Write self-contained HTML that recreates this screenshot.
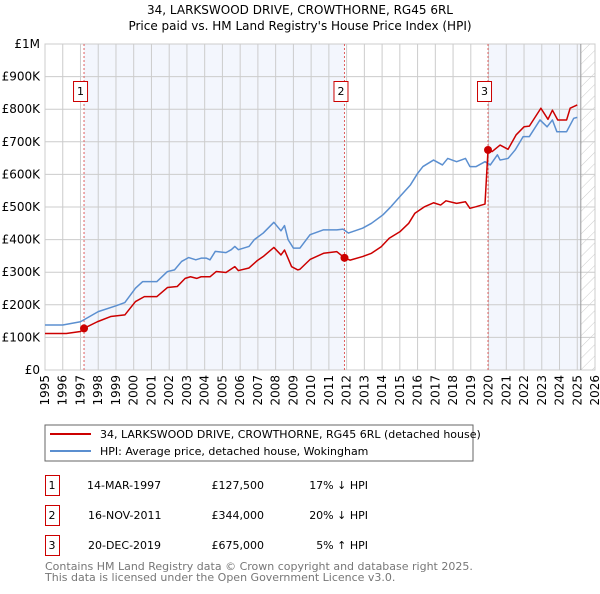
<!DOCTYPE html>
<html><head><meta charset="utf-8"><style>
body{margin:0;background:#fff;font-family:"DejaVu Sans","Liberation Sans",sans-serif;}
svg text{font-family:"DejaVu Sans","Liberation Sans",sans-serif;}
</style></head><body>
<svg id="c" width="600" height="590" xmlns="http://www.w3.org/2000/svg">
<defs><pattern id="hatch" width="8" height="8" patternUnits="userSpaceOnUse" patternTransform="rotate(45)"><line x1="0" y1="0" x2="0" y2="8" stroke="#ccc" stroke-width="1"/></pattern></defs>
<text x="300" y="14" text-anchor="middle" font-size="12">34, LARKSWOOD DRIVE, CROWTHORNE, RG45 6RL</text>
<text x="300" y="30" text-anchor="middle" font-size="12">Price paid vs. HM Land Registry's House Price Index (HPI)</text>
<g id="plot"></g>
<rect x="45" y="425" width="428" height="36" fill="#fff" stroke="#666"/>
<line x1="50" y1="434" x2="91" y2="434" stroke="#cc0000" stroke-width="2"/>
<text x="100" y="438" font-size="11">34, LARKSWOOD DRIVE, CROWTHORNE, RG45 6RL (detached house)</text>
<line x1="50" y1="451" x2="91" y2="451" stroke="#5b8fd0" stroke-width="2"/>
<text x="100" y="455" font-size="11">HPI: Average price, detached house, Wokingham</text>
<g font-size="11">
<rect x="45.5" y="475.5" width="14" height="20" fill="#fff" stroke="#cc0000"/><text x="52" y="489" text-anchor="middle">1</text>
<text x="87" y="489">14-MAR-1997</text><text x="264" y="489" text-anchor="end">£127,500</text><text x="368" y="489" text-anchor="end">17% ↓ HPI</text>
<rect x="45.5" y="505.5" width="14" height="20" fill="#fff" stroke="#cc0000"/><text x="52" y="519" text-anchor="middle">2</text>
<text x="88" y="519">16-NOV-2011</text><text x="264" y="519" text-anchor="end">£344,000</text><text x="368" y="519" text-anchor="end">20% ↓ HPI</text>
<rect x="45.5" y="535.5" width="14" height="20" fill="#fff" stroke="#cc0000"/><text x="52" y="549" text-anchor="middle">3</text>
<text x="88" y="549">20-DEC-2019</text><text x="264" y="549" text-anchor="end">£675,000</text><text x="368" y="549" text-anchor="end">5% ↑ HPI</text>
</g>
<text x="45" y="570" font-size="11" fill="#777">Contains HM Land Registry data © Crown copyright and database right 2025.</text>
<text x="45" y="581" font-size="11" fill="#777">This data is licensed under the Open Government Licence v3.0.</text>
</svg>
<script>
const yTicks=[0,100,200,300,400,500,600,700,800,900,1000];
const yTickLabels=["£0","£100K","£200K","£300K","£400K","£500K","£600K","£700K","£800K","£900K","£1M"];
const xYears=[1995,1996,1997,1998,1999,2000,2001,2002,2003,2004,2005,2006,2007,2008,2009,2010,2011,2012,2013,2014,2015,2016,2017,2018,2019,2020,2021,2022,2023,2024,2025,2026];
const hpiDates=[1995.0,1996.0,1997.0,1998.0,1999.0,1999.5,2000.1,2000.5,2001.3,2001.9,2002.3,2002.7,2003.1,2003.5,2003.8,2004.1,2004.3,2004.6,2005.2,2005.5,2005.7,2005.9,2006.5,2006.8,2007.3,2007.9,2008.3,2008.5,2008.7,2009.0,2009.37,2009.94,2010.7,2011.45,2011.8,2012.1,2012.9,2013.4,2014.05,2014.5,2015.0,2015.6,2016.0,2016.3,2016.9,2017.4,2017.7,2018.2,2018.7,2018.95,2019.3,2019.8,2020.1,2020.5,2020.65,2021.1,2021.5,2021.95,2022.3,2022.9,2023.3,2023.6,2023.85,2024.4,2024.8,2025.0];
const hpiValues=[138,138,148,179,197,207,251,271,271,302,307,333,345,338,343,343,338,364,360,369,379,369,379,400,420,453,427,443,400,374,374,415,430,430,432,420,435,450,476,501,532,568,603,624,644,629,649,639,649,624,624,639,629,660,644,649,675,716,716,767,746,767,731,731,772,775];
const priceDates=[1995.0,1996.2,1997.0,1997.2,1997.95,1998.7,1999.5,2000.1,2000.6,2001.3,2001.9,2002.45,2002.9,2003.2,2003.55,2003.8,2004.3,2004.65,2005.2,2005.7,2005.9,2006.5,2006.95,2007.3,2007.9,2008.3,2008.5,2008.9,2009.25,2009.37,2009.94,2010.7,2011.45,2011.88,2012.2,2012.9,2013.4,2013.95,2014.4,2015.0,2015.5,2015.85,2016.4,2016.9,2017.3,2017.6,2018.2,2018.7,2018.95,2019.3,2019.8,2019.97,2020.2,2020.65,2021.1,2021.55,2022.0,2022.3,2022.95,2023.35,2023.6,2023.9,2024.4,2024.6,2025.0];
const priceValues=[112,112,118,128,148,164,169,210,225,225,253,256,281,286,281,286,286,302,299,317,305,313,335,348,376,353,368,317,307,309,339,358,363,344,337,348,358,378,404,424,450,481,501,513,506,519,511,516,496,501,509,675,670,690,677,721,746,748,803,769,797,767,767,803,813];
const saleDates=[1997.2,2011.88,2019.97];
const saleValues=[127.5,344,675];
const saleLabels=["1","2","3"];

const X0=45,X1=595,Y0=370,Y1=44,Ymin=1995,Ymax=2026;
const sx=y=>X0+(y-Ymin)/(Ymax-Ymin)*(X1-X0);
const sy=v=>Y0-v/1000*(Y0-Y1);
const NS="http://www.w3.org/2000/svg";
const g=document.getElementById('plot');
function mk(t,a){const e=document.createElementNS(NS,t);for(const k in a)e.setAttribute(k,a[k]);g.appendChild(e);return e;}
let r=mk('rect',{x:sx(saleDates[0]),y:Y1,width:sx(saleDates[1])-sx(saleDates[0]),height:Y0-Y1,fill:'#f3f6fd'});


r=mk('rect',{x:sx(saleDates[2]),y:Y1,width:sx(2025.2)-sx(saleDates[2]),height:Y0-Y1,fill:'#f3f6fd'});


r=mk('rect',{x:sx(2025.2),y:Y1,width:X1-sx(2025.2),height:Y0-Y1,fill:'url(#hatch)'});


yTicks.forEach((v,i)=>{
  const l=mk('line',{x1:X0,x2:X1,y1:sy(v),y2:sy(v),stroke:'#cccccc'});
  
  
  const t=mk('text',{x:X0-5,y:sy(v)+4,'text-anchor':'end','font-size':'12'});
  t.textContent=yTickLabels[i];
  
  
});
xYears.forEach(y=>{
  const l=mk('line',{x1:sx(y),x2:sx(y),y1:Y1,y2:Y0,stroke:'#cccccc'});
  
  
  const t=mk('text',{x:sx(y),y:Y0+5,dy:'4','text-anchor':'end','font-size':'12',transform:`rotate(-90 ${sx(y)} ${Y0+5})`});
  t.textContent=y;
  
  
});
const b=mk('rect',{x:X0,y:Y1,width:X1-X0,height:Y0-Y1,fill:'none',stroke:'#cccccc'});


const ed=mk('line',{x1:sx(2025.2),x2:sx(2025.2),y1:Y1,y2:Y0,stroke:'#999'});


saleDates.forEach((d,i)=>{
  const l=mk('line',{x1:sx(d),x2:sx(d),y1:Y1,y2:Y0,stroke:'#e06060','stroke-dasharray':'2,2'});
  
  
  const bx=mk('rect',{x:sx(d)-10.5,y:81.5,width:14,height:20,fill:'#fff',stroke:'#cc0000'});
  
  
  const t=mk('text',{x:sx(d)-3.5,y:95,'text-anchor':'middle','font-size':'11'});
  t.textContent=saleLabels[i];
  
  
});
function line(ds,vs,col,name){
  const p=mk('polyline',{points:ds.map((d,i)=>sx(d)+','+sy(vs[i])).join(' '),fill:'none',stroke:col,'stroke-width':'1.5','stroke-linejoin':'round'});
  
  
}
line(hpiDates,hpiValues,'#5b8fd0','hpi-line');
line(priceDates,priceValues,'#cc0000','price-line');
saleDates.forEach((d,i)=>{
  const c=mk('circle',{cx:sx(d),cy:sy(saleValues[i]),r:4,fill:'#cc0000'});
  
  
});
</script>
</body></html>
